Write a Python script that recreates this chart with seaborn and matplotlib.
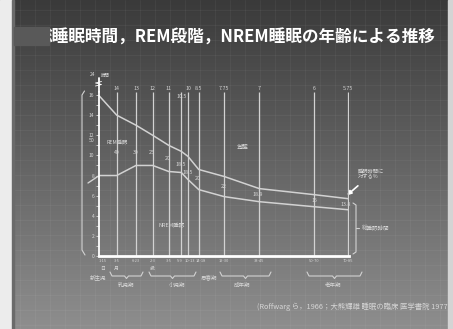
import numpy as np
import pandas as pd
import matplotlib
matplotlib.use("Agg")
import matplotlib.pyplot as plt
import seaborn as sns

sns.set_theme(style="white")
plt.rcParams['font.family'] = ['Noto Sans CJK JP', 'DejaVu Sans']

# ---------------- data ----------------
age_labels = ["1-15", "3-5", "6-23", "2-3", "3-5", "5-9", "10-13", "14-18",
              "19-30", "33-45", "50-70", "70-85"]
age_units = ["日", "月", "", "歳", "", "", "", "", "", "", "", ""]
age_pos = [0, 18.2, 37.5, 54.2, 70.2, 82.8, 89.5, 100.2, 125.8, 160.8, 215.5, 249.5]
total_sleep = [16, 14, 13, 12, 11, 10.4, 9.9, 8.6, 7.9, 6.7, 6.1, 5.7]
nrem_sleep = [8.0, 8.0, 9.0, 9.0, 8.4, 8.3, 7.6, 6.6, 5.9, 5.4, 4.9, 4.6]
total_labels = ["", "14", "13", "12", "11", "10.5", "10", "8.5", "7.75", "7", "6", "5.75"]
rem_pct_labels = ["50", "40", "30", "25", "20", "18.5", "18.5", "20", "22", "18.9", "15", "13.8"]
stage_names = ["新生児", "乳児期", "小児期", "思春期", "成年期", "老年期"]
title = "総睡眠時間，REM段階，NREM睡眠の年齢による推移"
citation = "(Roffwarg ら，1966；大熊輝雄 睡眠の臨床 医学書院 1977)"

df = pd.DataFrame({"pos": age_pos, "total": total_sleep, "nrem": nrem_sleep})

W, H = 453, 329
fig = plt.figure(figsize=(W / 100, H / 100), dpi=100)

# ---------------- background (pixel coordinates) ----------------
bg = fig.add_axes([0, 0, 1, 1])
grad = np.linspace(0, 1, 256)[:, None]
top_c = np.array([0x3a, 0x3a, 0x3a]) / 255
bot_c = np.array([0x8e, 0x8e, 0x8e]) / 255
img = top_c[None, None, :] * (1 - grad[..., None]) + bot_c[None, None, :] * grad[..., None]
img = np.repeat(img, 4, axis=1)
bg.imshow(img, extent=[0, W, H, 0], aspect='auto', zorder=0)
bg.set_xlim(0, W)
bg.set_ylim(H, 0)
bg.axis('off')
for gx in np.arange(20, W, 15):
    bg.plot([gx, gx], [0, H], color='white', alpha=0.05, lw=0.6, zorder=1)
for gy in np.arange(10, H, 15):
    bg.plot([0, W], [gy, gy], color='white', alpha=0.05, lw=0.6, zorder=1)
bg.add_patch(plt.Rectangle((0, 0), 12, H, color='#ececec', zorder=2))
bg.add_patch(plt.Rectangle((12, 0), 1.5, H, color='#6a6a6a', zorder=2))
bg.add_patch(plt.Rectangle((448, 0), 5, H, color='#d4d4d4', zorder=2))

# title
bg.text(36, 38, title, color='white', fontsize=12.0, fontweight='bold',
        va='center', ha='left', zorder=3)
bg.add_patch(plt.Rectangle((14, 27), 35, 18, color='#595959', zorder=4))

lc = '#d2d2d2'
tc = '#d6d6d6'
fs = 3.8

# ---------------- main chart ----------------
px_per_hr = 10.06
ax = fig.add_axes([98.5 / W, (H - 256) / H, 250.5 / W, 164 / H])
ax.set_facecolor('none')
ax.set_xlim(0, 250.5)
ax.set_ylim(0, 164 / px_per_hr)

ax.vlines(df["pos"][1:], 0, 164 / px_per_hr, color=lc, lw=0.9)
sns.lineplot(data=df, x="pos", y="total", ax=ax, color=lc, lw=1.1)
sns.lineplot(data=df, x="pos", y="nrem", ax=ax, color=lc, lw=1.1)

for s in ['top', 'right']:
    ax.spines[s].set_visible(False)
ax.spines['left'].set_color('white')
ax.spines['left'].set_linewidth(1.3)
ax.spines['bottom'].set_color('white')
ax.spines['bottom'].set_linewidth(2.0)
ax.set_yticks(np.arange(0, 17, 2))
ax.set_yticks(np.arange(0, 17, 1), minor=True)
ax.set_yticklabels([str(v) for v in range(0, 17, 2)], fontsize=3.5, color=tc)
ax.tick_params(axis='y', which='both', direction='out', length=2, width=0.6,
               colors=tc, pad=1, left=True)
ax.set_xticks([])
ax.set_xlabel("")
ax.set_ylabel("")

def hx(p):
    return 98.5 + p

# upper axis extension with break and "24 時間"
bg.plot([98.5, 98.5], [92, 78], color='white', lw=1.3, zorder=5)
bg.plot([95.5, 101.5, 95.5, 101.5], [86, 84.5, 83, 81.5], color='white', lw=0.6, zorder=6)
bg.text(95, 75, "24", color=tc, fontsize=3.5, ha='right', va='center', zorder=6)
bg.text(101, 75, "時間", color=tc, fontsize=3.2, ha='left', va='center', zorder=6)

# total sleep labels at top of vertical lines
for p, lab in zip(age_pos, total_labels):
    if not lab:
        continue
    yy = 97 if lab == "10.5" else 89
    bg.text(hx(p), yy, lab, color=tc, fontsize=fs, ha='center', va='center', zorder=6)

# REM % labels (between curves)
rem_xy = [(92, 141), (117, 152), (136, 152), (152, 153), (168, 158), (181, 164),
          (188, 172), (198, 179), (224, 187), (258, 194), (314, 201), (346, 204)]
for (x, y), lab in zip(rem_xy, rem_pct_labels):
    bg.text(x, y, lab, color=tc, fontsize=fs, ha='center', va='center', zorder=6)

bg.text(117, 142, "REM睡眠", color=tc, fontsize=3.8, ha='center', va='center', zorder=6)
bg.text(243, 147, "覚醒", color=tc, fontsize=4.2, ha='center', va='center', zorder=6)
bg.text(172, 226, "NREM睡眠", color=tc, fontsize=4.0, ha='center', va='center', zorder=6)
bg.text(358, 174, "睡眠時間に\n対する%", color=tc, fontsize=3.8, ha='left', va='center',
        linespacing=1.1, zorder=6)
bg.annotate("", xy=(345, 197), xytext=(360, 184),
            arrowprops=dict(arrowstyle='-|>', color='white', lw=1.2, mutation_scale=6), zorder=6)

# right brace: total sleep time
bg.plot([353, 356, 356, 353], [203, 205, 252, 254], color=lc, lw=0.8, zorder=5)
bg.plot([356, 358.5], [228, 228], color=lc, lw=0.8, zorder=5)
bg.text(362, 228, "総睡眠時間", color=tc, fontsize=4.0, ha='left', va='center', zorder=6)

# left bracket
bg.plot([84.5, 82, 82, 85], [91, 95, 250, 255], color=lc, lw=0.8, zorder=5)
bg.plot([88, 98.5], [183, 176], color=lc, lw=1.0, zorder=5)

# age labels
age_dx = [4, 0, 0, 0, 0, -1.5, 1.5, 2.5, 0, 0, 0, 0]
for p, lab, u, dx in zip(age_pos, age_labels, age_units, age_dx):
    xx = hx(p) + dx
    bg.text(xx, 261, lab, color=tc, fontsize=2.9, ha='center', va='center', zorder=6)
    if u:
        bg.text(xx, 268, u, color=tc, fontsize=3.5, ha='center', va='center', zorder=6)

# stage brackets
def bracket(x1, x2, y=276):
    xm = (x1 + x2) / 2
    bg.plot([x1, x1 + 2, xm - 2, xm, xm + 2, x2 - 2, x2],
            [y - 4, y, y, y + 2.5, y, y, y - 4], color=lc, lw=0.8, zorder=5)

bg.text(98, 277, stage_names[0], color=tc, fontsize=4.0, ha='center', va='center', zorder=6)
bracket(110, 143)
bg.text(126, 285, stage_names[1], color=tc, fontsize=4.0, ha='center', va='center', zorder=6)
bracket(149, 196)
bg.text(177, 285, stage_names[2], color=tc, fontsize=4.0, ha='center', va='center', zorder=6)
bg.text(209, 277, stage_names[3], color=tc, fontsize=4.0, ha='center', va='center', zorder=6)
bracket(220, 271)
bg.text(242, 285, stage_names[4], color=tc, fontsize=4.0, ha='center', va='center', zorder=6)
bracket(307, 362)
bg.text(333, 285, stage_names[5], color=tc, fontsize=4.0, ha='center', va='center', zorder=6)

bg.text(450, 307, citation, color=tc, fontsize=5.3, ha='right', va='center', zorder=6)

fig.savefig("out.png", dpi=100)
